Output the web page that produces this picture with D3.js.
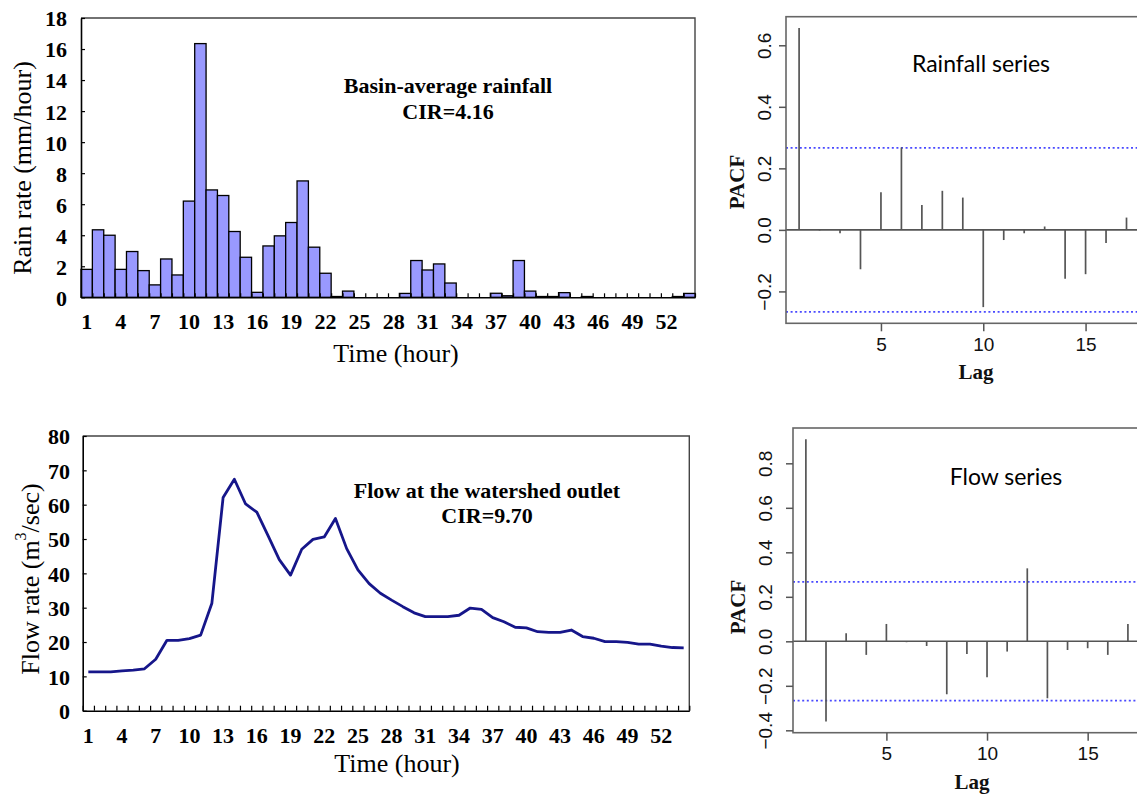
<!DOCTYPE html>
<html>
<head>
<meta charset="utf-8">
<script src="https://cdn.jsdelivr.net/npm/d3@7"></script>
<style>
  body { margin: 0; background: #fff; }
  svg { display: block; }
</style>
</head>
<body>
<svg id="chart" width="1137" height="796"></svg>
<script>
// ---- data ----
const hours = [1,2,3,4,5,6,7,8,9,10,11,12,13,14,15,16,17,18,19,20,21,22,23,24,25,26,27,
               28,29,30,31,32,33,34,35,36,37,38,39,40,41,42,43,44,45,46,47,48,49,50,51,52,53,54];
const hourLabels = [1,4,7,10,13,16,19,22,25,28,31,34,37,40,43,46,49,52];

// basin-average rainfall (mm/hour)
const rainRate = [1.8, 4.35, 4.0, 1.8, 2.95, 1.72, 0.8, 2.47, 1.44, 6.2,
                  16.35, 6.92, 6.56, 4.24, 2.58, 0.32, 3.31, 3.96, 4.82, 7.5,
                  3.23, 1.55, 0.05, 0.4, 0, 0, 0, 0, 0.25, 2.37,
                  1.76, 2.15, 0.92, 0, 0, 0, 0.26, 0.1, 2.37, 0.4,
                  0.05, 0.05, 0.3, 0, 0.05, 0, 0, 0, 0, 0,
                  0, 0, 0.05, 0.25];
const rainTicks = [0,2,4,6,8,10,12,14,16,18];

// flow at the watershed outlet (m3/sec)
const flowRate = [11.3, 11.3, 11.3, 11.6, 11.8, 12.2, 15.0, 20.5, 20.5, 21.0,
                  22.0, 31.3, 62.1, 67.4, 60.2, 57.8, 51.0, 44.0, 39.5, 47.0,
                  49.9, 50.6, 56.0, 47.2, 41.0, 37.0, 34.2, 32.2, 30.3, 28.5,
                  27.4, 27.4, 27.4, 27.8, 29.9, 29.5, 27.1, 25.9, 24.3, 24.1,
                  23.0, 22.8, 22.8, 23.5, 21.6, 21.1, 20.1, 20.1, 19.9, 19.4,
                  19.4, 18.8, 18.4, 18.3];
const flowTicks = [0,10,20,30,40,50,60,70,80];

// partial autocorrelation by lag
const lags = [1,2,3,4,5,6,7,8,9,10,11,12,13,14,15,16,17];
const pacfRain = [0.656, -0.002, -0.011, -0.128, 0.122, 0.268, 0.081, 0.127, 0.105, -0.251,
                  -0.033, -0.011, 0.011, -0.159, -0.144, -0.043, 0.040];
const pacfFlow = [0.908, -0.360, 0.036, -0.061, 0.078, -0.004, -0.021, -0.238, -0.057, -0.162,
                  -0.046, 0.328, -0.256, -0.039, -0.031, -0.061, 0.078];
const pacfRainTicks = [-0.2, 0.0, 0.2, 0.4, 0.6];
const pacfFlowTicks = [-0.4, -0.2, 0.0, 0.2, 0.4, 0.6, 0.8];
const lagTicks = [5, 10, 15];
const nObs = 54;

// ---- drawing ----
const svg = d3.select("#chart");
const SERIF = "'Liberation Serif', 'Times New Roman', serif";
const SANS = "'Liberation Sans', Arial, sans-serif";
const INK = "#000";

function excelFrame(g, x0, x1, y0, y1) {
  g.append("path")
    .attr("d", `M${x0},${y0}H${x1}V${y1}`)
    .attr("fill", "none").attr("stroke", "#444").attr("stroke-width", 1.4);
}

function excelAxes(g, xBand, y, yTicks, y0, x0, x1, tickLen, yLabelRight) {
  // category boundary ticks on the bottom axis
  const xEdge = d3.scaleLinear().domain([0.5, hours.length + 0.5]).range([x0, x1]);
  const edges = d3.range(0, hours.length + 1).map(i => i + 0.5);
  const xa = g.append("g").attr("transform", `translate(0,${y0})`)
    .call(d3.axisBottom(xEdge).tickValues(edges).tickSize(-tickLen).tickFormat("").tickSizeOuter(0));
  xa.select(".domain").attr("stroke", "#000").attr("stroke-width", 1.6);
  xa.selectAll(".tick line").attr("stroke", "#000").attr("stroke-width", 1.2);

  // category labels
  const xl = g.append("g").attr("transform", `translate(0,${y0})`)
    .call(d3.axisBottom(xBand).tickValues(hourLabels).tickSize(0).tickPadding(0));
  xl.select(".domain").remove();
  xl.selectAll("text").attr("y", 0).attr("dy", 0).attr("transform", "translate(0,32)")
    .attr("font-family", SERIF).attr("font-weight", "bold").attr("font-size", 22).attr("fill", INK);

  // value axis with inward ticks
  const ya = g.append("g").attr("transform", `translate(${x0},0)`)
    .call(d3.axisLeft(y).tickValues(yTicks).tickSize(-4).tickPadding(x0 - yLabelRight).tickSizeOuter(0));
  ya.select(".domain").attr("stroke", "#000").attr("stroke-width", 1.6);
  ya.selectAll(".tick line").attr("stroke", "#000").attr("stroke-width", 1.2);
  ya.selectAll("text").attr("dy", "0.36em")
    .attr("font-family", SERIF).attr("font-weight", "bold").attr("font-size", 22).attr("fill", INK);
}

// ---------- rainfall bars ----------
{
  const L = 81, R = 695, T = 18, B = 297.3;
  const g = svg.append("g");
  const x = d3.scaleBand().domain(hours).range([L, R]).padding(0);
  const y = d3.scaleLinear().domain([0, 18]).range([B, T]);

  excelFrame(g, L, R, T, B);

  g.append("g").selectAll("rect")
    .data(hours.map((h, i) => ({ h, v: rainRate[i] })).filter(d => d.v > 0))
    .join("rect")
      .attr("x", d => x(d.h))
      .attr("width", x.bandwidth())
      .attr("y", d => y(d.v))
      .attr("height", d => y(0) - y(d.v))
      .attr("fill", "#9999ff")
      .attr("stroke", "#000")
      .attr("stroke-width", 1.3);

  excelAxes(g, x, y, rainTicks, B, L, R, 4, 67);

  g.append("text").attr("x", 448).attr("y", 93).attr("text-anchor", "middle")
    .attr("font-family", SERIF).attr("font-weight", "bold").attr("font-size", 22).attr("fill", INK)
    .text("Basin-average rainfall");
  g.append("text").attr("x", 448).attr("y", 119).attr("text-anchor", "middle")
    .attr("font-family", SERIF).attr("font-weight", "bold").attr("font-size", 22).attr("fill", INK)
    .text("CIR=4.16");

  g.append("text").attr("x", 396).attr("y", 362).attr("text-anchor", "middle")
    .attr("font-family", SERIF).attr("font-size", 26).attr("fill", INK)
    .text("Time (hour)");
  g.append("text").attr("transform", "translate(22,168) rotate(-90)")
    .attr("text-anchor", "middle").attr("dominant-baseline", "central")
    .attr("font-family", SERIF).attr("font-size", 26).attr("fill", INK)
    .text("Rain rate (mm/hour)");
}

// ---------- flow hydrograph ----------
{
  const L = 82.7, R = 689.3, T = 436, B = 710.7;
  const g = svg.append("g");
  const x = d3.scaleBand().domain(hours).range([L, R]).padding(0);
  const y = d3.scaleLinear().domain([0, 80]).range([B, T]);

  excelFrame(g, L, R, T, B);
  excelAxes(g, x, y, flowTicks, B, L, R, 5, 70);

  const line = d3.line()
    .x((d, i) => x(hours[i]) + x.bandwidth() / 2)
    .y(d => y(d));
  g.append("path").datum(flowRate)
    .attr("d", line)
    .attr("fill", "none")
    .attr("stroke", "#16168a")
    .attr("stroke-width", 2.8)
    .attr("stroke-linejoin", "round");

  g.append("text").attr("x", 487).attr("y", 498).attr("text-anchor", "middle")
    .attr("font-family", SERIF).attr("font-weight", "bold").attr("font-size", 22).attr("fill", INK)
    .text("Flow at the watershed outlet");
  g.append("text").attr("x", 487).attr("y", 523).attr("text-anchor", "middle")
    .attr("font-family", SERIF).attr("font-weight", "bold").attr("font-size", 22).attr("fill", INK)
    .text("CIR=9.70");

  g.append("text").attr("x", 397).attr("y", 772).attr("text-anchor", "middle")
    .attr("font-family", SERIF).attr("font-size", 26).attr("fill", INK)
    .text("Time (hour)");
  const yt = g.append("text").attr("transform", "translate(30,579) rotate(-90)")
    .attr("text-anchor", "middle").attr("dominant-baseline", "central")
    .attr("font-family", SERIF).attr("font-size", 26).attr("fill", INK);
  yt.append("tspan").text("Flow rate (m");
  yt.append("tspan").attr("font-size", 16).attr("dy", -10).text("3");
  yt.append("tspan").attr("dy", 10).text("/sec)");
}

// ---------- PACF panels (R-style plot region with 4% range expansion) ----------
function pacfPanel(vals, yTicks, box, title, titlePos, labelX) {
  const clim = 1.96 / Math.sqrt(nObs);
  const expand = ([a, b]) => { const p = (b - a) * 0.04; return [a - p, b + p]; };
  const xDom = expand(d3.extent(lags));
  const yDom = expand(d3.extent([-clim, clim, ...vals]));
  const x = d3.scaleLinear().domain(xDom).range([box.L, box.R]);
  const y = d3.scaleLinear().domain(yDom).range([box.B, box.T]);
  const g = svg.append("g");

  // zero line
  g.append("line").attr("x1", box.L).attr("x2", box.R).attr("y1", y(0)).attr("y2", y(0))
    .attr("stroke", "#555").attr("stroke-width", 1.6);

  // significance bounds
  g.selectAll("line.clim").data([clim, -clim]).join("line").attr("class", "clim")
    .attr("x1", box.L).attr("x2", box.R).attr("y1", d => y(d)).attr("y2", d => y(d))
    .attr("stroke", "#4a4aff").attr("stroke-width", 1.7).attr("stroke-dasharray", "2,2.6");

  // spikes
  g.selectAll("line.spike").data(lags.map((l, i) => ({ l, v: vals[i] }))).join("line")
    .attr("class", "spike")
    .attr("x1", d => x(d.l)).attr("x2", d => x(d.l))
    .attr("y1", y(0)).attr("y2", d => y(d.v))
    .attr("stroke", "#555").attr("stroke-width", 1.7);

  // box
  g.append("rect").attr("x", box.L).attr("y", box.T)
    .attr("width", box.R - box.L).attr("height", box.B - box.T)
    .attr("fill", "none").attr("stroke", "#666").attr("stroke-width", 1.6);

  // axes
  const xa = g.append("g").attr("transform", `translate(0,${box.B})`)
    .call(d3.axisBottom(x).tickValues(lagTicks).tickSize(8).tickPadding(6).tickSizeOuter(0));
  xa.select(".domain").remove();
  xa.selectAll(".tick line").attr("stroke", "#555").attr("stroke-width", 1.5);
  xa.selectAll("text").attr("font-family", SANS).attr("font-size", 19).attr("fill", "#111");

  const ya = g.append("g").attr("transform", `translate(${box.L},0)`)
    .call(d3.axisLeft(y).tickValues(yTicks).tickSize(7).tickFormat(d3.format(".1f")).tickSizeOuter(0));
  ya.select(".domain").remove();
  ya.selectAll(".tick line").attr("stroke", "#555").attr("stroke-width", 1.5);
  ya.selectAll("text")
    .attr("x", 0).attr("y", -(box.L - labelX)).attr("dy", 0)
    .attr("transform", "rotate(-90)")
    .attr("text-anchor", "middle").attr("dominant-baseline", "central")
    .attr("font-family", SANS).attr("font-size", 19).attr("fill", "#111");

  g.append("text").attr("x", box.lagX).attr("y", box.B + 56)
    .attr("text-anchor", "middle")
    .attr("font-family", SERIF).attr("font-weight", "bold").attr("font-size", 21).attr("fill", "#111")
    .text("Lag");
  g.append("text").attr("transform", `translate(${box.titleX},${box.titleY}) rotate(-90)`)
    .attr("text-anchor", "middle").attr("dominant-baseline", "central")
    .attr("font-family", SERIF).attr("font-weight", "bold").attr("font-size", 21).attr("fill", "#111")
    .text("PACF");

  g.append("text").attr("x", titlePos[0]).attr("y", titlePos[1]).attr("text-anchor", "middle")
    .attr("font-family", "Lato, 'Open Sans', sans-serif").attr("font-size", 23).attr("fill", INK)
    .text(title);
}

pacfPanel(pacfRain, pacfRainTicks,
          { L: 786, R: 1139.6, T: 16.7, B: 323.3, titleX: 737, titleY: 182, lagX: 976 },
          "Rainfall series", [981, 72], 764);
pacfPanel(pacfFlow, pacfFlowTicks,
          { L: 793, R: 1140.8, T: 428, B: 732.7, titleX: 738, titleY: 607, lagX: 972 },
          "Flow series", [1006, 485], 765.5);
</script>
</body>
</html>
